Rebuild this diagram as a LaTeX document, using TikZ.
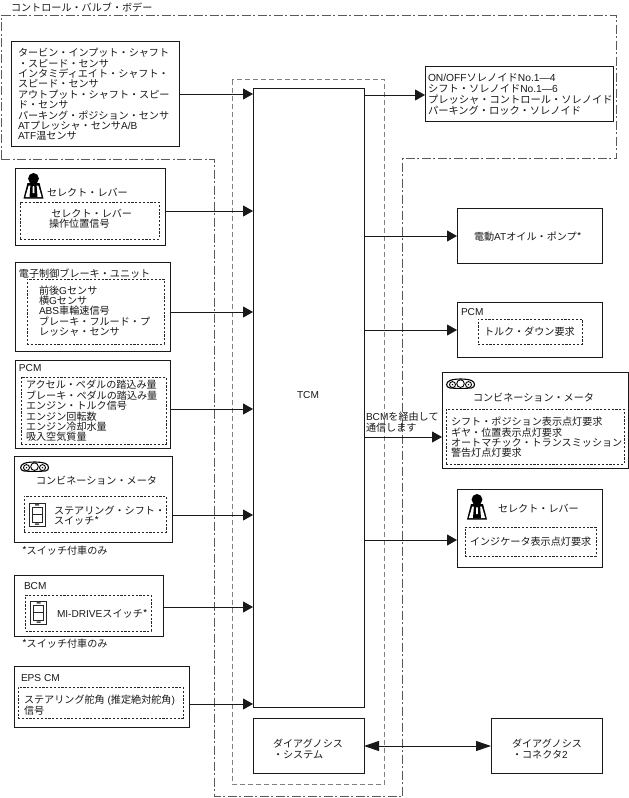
\documentclass[tikz,border=0pt]{standalone}
\usepackage{fontspec}
\setmainfont{Noto Sans CJK JP}
\newfontfamily\latinfnt{Liberation Sans}
\newcommand\ltn[1]{{\latinfnt #1}}
\usetikzlibrary{arrows.meta,fit}
\tikzset{
  x=1pt,y=-1pt,
  box/.style={draw=black!90,line width=1pt,fill=white,inner sep=0pt,outer sep=0pt},
  inbox/.style={draw=black!85,line width=0.8pt,dash pattern=on 2.2pt off 1.6pt,inner sep=0pt,outer sep=0pt},
  lbl/.style={anchor=west,inner sep=0pt,outer sep=0pt,align=left,text=black!90,font=\fontsize{10.1}{10.4}\selectfont},
  arr/.style={draw=black!90,line width=1pt,-{Triangle[length=10pt,width=11pt]}},
  dbl/.style={draw=black!90,line width=1pt,{Triangle[length=15pt,width=10pt]}-{Triangle[length=15pt,width=10pt]}},
  dashdot/.style={draw=black!65,line width=0.7pt,dash pattern=on 9pt off 2.5pt on 2pt off 2.5pt},
  dashin/.style={draw=black!50,line width=0.8pt,dash pattern=on 5pt off 3pt},
  person/.pic={
    \fill[black] (10,5.6) ellipse (5.4 and 5.6);
    \fill[black] (0,25.5) -- (4,10) -- (16,10) -- (20,25.5) -- cycle;
    \fill[white] (1.8,24.2) -- (5.2,12.5) -- (14.8,12.5) -- (18.2,24.2) -- cycle;
    \fill[black] (6,24.2) -- (7,11) -- (13,11) -- (14,24.2) -- cycle;
    \fill[white] (9.3,13) -- (10.7,13) -- (11,20) -- (9,20) -- cycle;
  },
  gauges/.pic={
    \draw[black,line width=1.1pt] (3.5,1.5) .. controls (8,-0.5) and (20,-0.5) .. (25,1.5)
      .. controls (29,3) and (29,8.5) .. (25,9) .. controls (18,9.5) and (10,9.5) .. (3.5,9)
      .. controls (-1,8.5) and (-1,3) .. (3.5,1.5) -- cycle;
    \draw[black,fill=white,line width=0.9pt] (14,4.6) circle (3.8);
    \draw[black,fill=white,line width=0.9pt] (6,5.6) circle (3);
    \draw[black,fill=white,line width=0.9pt] (22,5.6) circle (3);
    \fill[black] (6,5.6) circle (0.8) (22,5.6) circle (0.8);
  },
  switchicon/.pic={
    \draw[black!85,line width=0.8pt] (0,0) rectangle (16,23);
    \draw[black!85,line width=0.7pt] (3,4) rectangle (13,19);
    \draw[black!85,line width=0.7pt] (3,11.5) -- (13,11.5);
    \fill[black!70] (6,1.2) rectangle (10,2.6) (6,20.4) rectangle (10,21.8);
  },
}
\begin{document}
\begin{tikzpicture}
\useasboundingbox (0,0) rectangle (629,798);
% enclosures
\draw[dashdot] (1,159) -- (1,15.5) -- (616.5,15.5) -- (616.5,158.5) -- (402.5,158.5) -- (402.5,796.5) -- (214.5,796.5) -- (214.5,159) -- cycle;
\draw[dashin] (232,79.5) rectangle (384.5,784);
\node[lbl] (tvb) at (11,7) {コントロール・バルブ・ボデー};
% central
\node[box,fit={(253,88) (364,707)}] (tcm) {};
\node[lbl,anchor=center] (tcmt) at (308,395) {\ltn{TCM}};
\node[box,fit={(253,718) (364,773)}] (diag) {};
\node[lbl] (diagt) at (273,749) {ダイアグノシス\\・システム};
\node[box,fit={(491,718) (602,773)}] (conn) {};
\node[lbl] (connt) at (512,749) {ダイアグノシス\\・コネクタ\ltn{2}};
% left inputs
\node[box,fit={(11,41) (179,146)}] (b1) {};
\node[lbl] (b1t) at (18,94.5) {タービン・インプット・シャフト\\・スピード・センサ\\インタミディエイト・シャフト・\\スピード・センサ\\アウトプット・シャフト・スピー\\ド・センサ\\パーキング・ポジション・センサ\\\ltn{AT}プレッシャ・センサ\ltn{A/B}\\\ltn{ATF}温センサ};

\node[box,fit={(15,168) (165,245)}] (b2) {};
\pic at (23.5,173) {person};
\node[lbl] (b2t) at (47,193) {セレクト・レバー};
\node[inbox,fit={(20,202) (159,239)}] (b2i) {};
\node[lbl] (b2u) at (49,219) {\ セレクト・レバー\\操作位置信号};

\node[box,fit={(15,262) (170,351)}] (b3) {};
\node[lbl] (b3t) at (19,274) {電子制御ブレーキ・ユニット};
\node[inbox,fit={(27,279) (164,344)}] (b3i) {};
\node[lbl] (b3u) at (39,311) {前後\ltn{G}センサ\\横\ltn{G}センサ\\\ltn{ABS}車輪速信号\\ブレーキ・フルード・プ\\レッシャ・センサ};

\node[box,fit={(15,360) (170,448)}] (b4) {};
\node[lbl] (b4t) at (19,368) {\ltn{PCM}};
\node[inbox,fit={(21,377) (166,444)}] (b4i) {};
\node[lbl] (b4u) at (26,411) {アクセル・ペダルの踏込み量\\ブレーキ・ペダルの踏込み量\\エンジン・トルク信号\\エンジン回転数\\エンジン冷却水量\\吸入空気質量};

\node[box,fit={(14.5,456) (172.5,542)}] (b5) {};
\pic at (20.5,462) {gauges};
\node[lbl] (b5t) at (36,481) {コンビネーション・メータ};
\node[inbox,fit={(24,496) (166,532)}] (b5i) {};
\pic at (29,503) {switchicon};
\node[lbl] (b5u) at (54,515.5) {ステアリング・シフト・\\スイッチ*};
\node[lbl] (n1) at (22,551) {*スイッチ付車のみ};

\node[box,fit={(14.5,575) (163.5,636)}] (b6) {};
\node[lbl] (b6t) at (24,586) {\ltn{BCM}};
\node[inbox,fit={(25.5,595) (151,631)}] (b6i) {};
\pic at (30.5,601) {switchicon};
\node[lbl] (b6u) at (57,614) {\ltn{MI-DRIVE}スイッチ*};
\node[lbl] (n2) at (22,644) {*スイッチ付車のみ};

\node[box,fit={(14.5,666) (189,727)}] (b7) {};
\node[lbl] (b7t) at (21,678) {\ltn{EPS CM}};
\node[inbox,fit={(18,687) (183,718)}] (b7i) {};
\node[lbl] (b7u) at (24,705) {ステアリング舵角\ltn{ (}推定絶対舵角\ltn{)}\\信号};

% right outputs
\node[box,fit={(425,66) (613,121)}] (r1) {};
\node[lbl,font=\fontsize{10.25}{10.9}\selectfont] (r1t) at (428,94.5) {\ltn{ON/OFF}ソレノイド\ltn{No.1—4}\\シフト・ソレノイド\ltn{No.1—6}\\プレッシャ・コントロール・ソレノイド\\パーキング・ロック・ソレノイド};

\node[box,fit={(457,208) (602,263)}] (r2) {};
\node[lbl] (r2t) at (474,237) {電動\ltn{AT}オイル・ポンプ*};

\node[box,fit={(457,302) (602,357)}] (r3) {};
\node[lbl] (r3t) at (461,312) {\ltn{PCM}};
\node[inbox,fit={(478,319) (582,344)}] (r3i) {};
\node[lbl] (r3u) at (484,331.5) {トルク・ダウン要求};

\node[box,fit={(442,372) (628,468)}] (r4) {};
\pic at (446.5,379) {gauges};
\node[lbl] (r4t) at (473,398) {コンビネーション・メータ};
\node[inbox,fit={(446,409) (624,464)}] (r4i) {};
\node[lbl] (r4u) at (451,437.5) {シフト・ポジション表示点灯要求\\ギヤ・位置表示点灯要求\\オートマチック・トランスミッション\\警告灯点灯要求};
\node[lbl] (via) at (366,422) {\ltn{BCM}を経由して\\通信します};

\node[box,fit={(457,489) (602,567)}] (r5) {};
\pic at (467,494) {person};
\node[lbl] (r5t) at (498,509) {セレクト・レバー};
\node[inbox,fit={(465,527) (596,556)}] (r5i) {};
\node[lbl] (r5u) at (470,542) {インジケータ表示点灯要求};

% connectors
\draw[arr] (b1.east |- 0,94) -- (tcm.west |- 0,94);
\draw[arr] (b2.east |- 0,211) -- (tcm.west |- 0,211);
\draw[arr] (b3.east |- 0,312) -- (tcm.west |- 0,312);
\draw[arr] (b4.east |- 0,409) -- (tcm.west |- 0,409);
\draw[arr] (b5.east |- 0,515) -- (tcm.west |- 0,515);
\draw[arr] (b6.east |- 0,607) -- (tcm.west |- 0,607);
\draw[arr] (b7.east |- 0,704) -- (tcm.west |- 0,704);
\draw[arr] (tcm.east |- 0,95) -- (r1.west |- 0,95);
\draw[arr] (tcm.east |- 0,236) -- (r2.west |- 0,236);
\draw[arr] (tcm.east |- 0,330) -- (r3.west |- 0,330);
\draw[arr] (tcm.east |- 0,437) -- (r4.west |- 0,437);
\draw[arr] (tcm.east |- 0,540) -- (r5.west |- 0,540);
\draw[dbl] (diag.east |- 0,746) -- (conn.west |- 0,746);
\end{tikzpicture}
\end{document}
